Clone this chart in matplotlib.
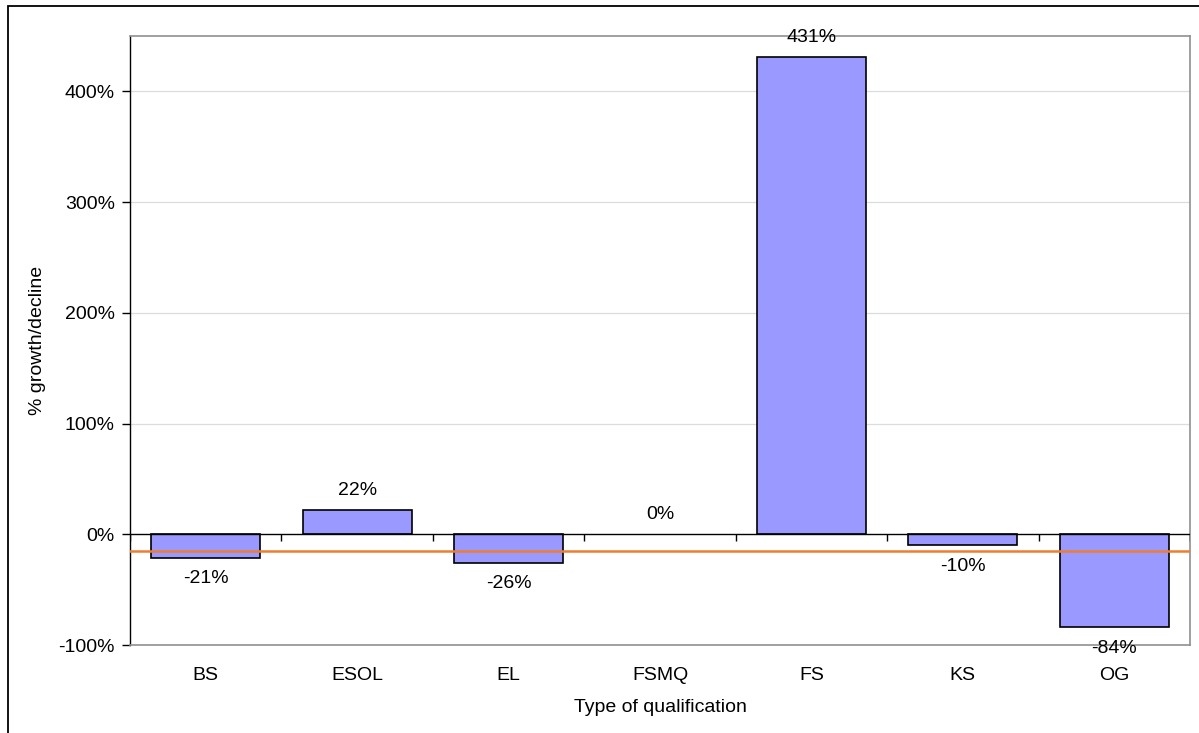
import matplotlib
matplotlib.use("Agg")
import matplotlib.pyplot as plt
from matplotlib.patches import Rectangle

plt.rcParams['font.family'] = ['Liberation Sans', 'DejaVu Sans']

categories = ["BS", "ESOL", "EL", "FSMQ", "FS", "KS", "OG"]
growth = [-21, 22, -26, 0, 431, -10, -84]
value_labels = ["-21%", "22%", "-26%", "0%", "431%", "-10%", "-84%"]
overall_growth = -15
y_ticks = [-100, 0, 100, 200, 300, 400]
y_tick_labels = ["-100%", "0%", "100%", "200%", "300%", "400%"]

FS = 14

fig = plt.figure(figsize=(11.99, 7.33), dpi=100)
ax = fig.add_axes([130/1199, 88/733, 1060/1199, 609/733])

# figure border
fig.patches.append(Rectangle((8/1199, -0.05), 1.2, 1 - 6/733 + 0.05,
                             transform=fig.transFigure, fill=False,
                             edgecolor='black', linewidth=1.3, zorder=0))

x = list(range(len(categories)))
ax.set_xlim(-0.5, len(categories) - 0.5)
ax.set_ylim(-100, 450)

for yt in y_ticks[2:]:
    ax.axhline(yt, color='#dcdcdc', linewidth=0.9, zorder=0)

bar_heights = [v if v != 0 else float('nan') for v in growth]
ax.bar(x, bar_heights, width=0.72, color='#9999FF', edgecolor='black',
       linewidth=1.2, zorder=2)

# zero axis and category boundary ticks
ax.axhline(0, color='black', linewidth=1.0, zorder=3)
bounds = [i - 0.5 for i in range(len(categories) + 1)]
ax.vlines(bounds, -6.3, 0, color='black', linewidth=1.0, zorder=3)

ax.axhline(overall_growth, color='#ED7D31', linewidth=1.8, zorder=4)

for xi, v, lab in zip(x, growth, value_labels):
    off = 14 if v >= 0 else -15
    ax.annotate(lab, (xi, v), xytext=(0, off), textcoords='offset points',
                ha='center', va='center', fontsize=FS, zorder=5)

ax.set_yticks(y_ticks)
ax.set_yticklabels(y_tick_labels, fontsize=FS)
ax.tick_params(axis='y', direction='out', length=6, width=1, pad=5)

ax.set_xticks(x)
ax.set_xticklabels(categories, fontsize=FS)
ax.tick_params(axis='x', length=0, pad=16)

ax.set_ylabel("% growth/decline", fontsize=FS)
ax.yaxis.set_label_coords(-0.079, 0.5)
ax.set_xlabel("Type of qualification", fontsize=FS)
ax.xaxis.set_label_coords(0.5, -0.089)

for s in ['top', 'right', 'bottom']:
    ax.spines[s].set_color('#909090')
    ax.spines[s].set_linewidth(1.2)
ax.spines['left'].set_color('black')
ax.spines['left'].set_linewidth(1.0)

fig.savefig("out.png", dpi=100)
